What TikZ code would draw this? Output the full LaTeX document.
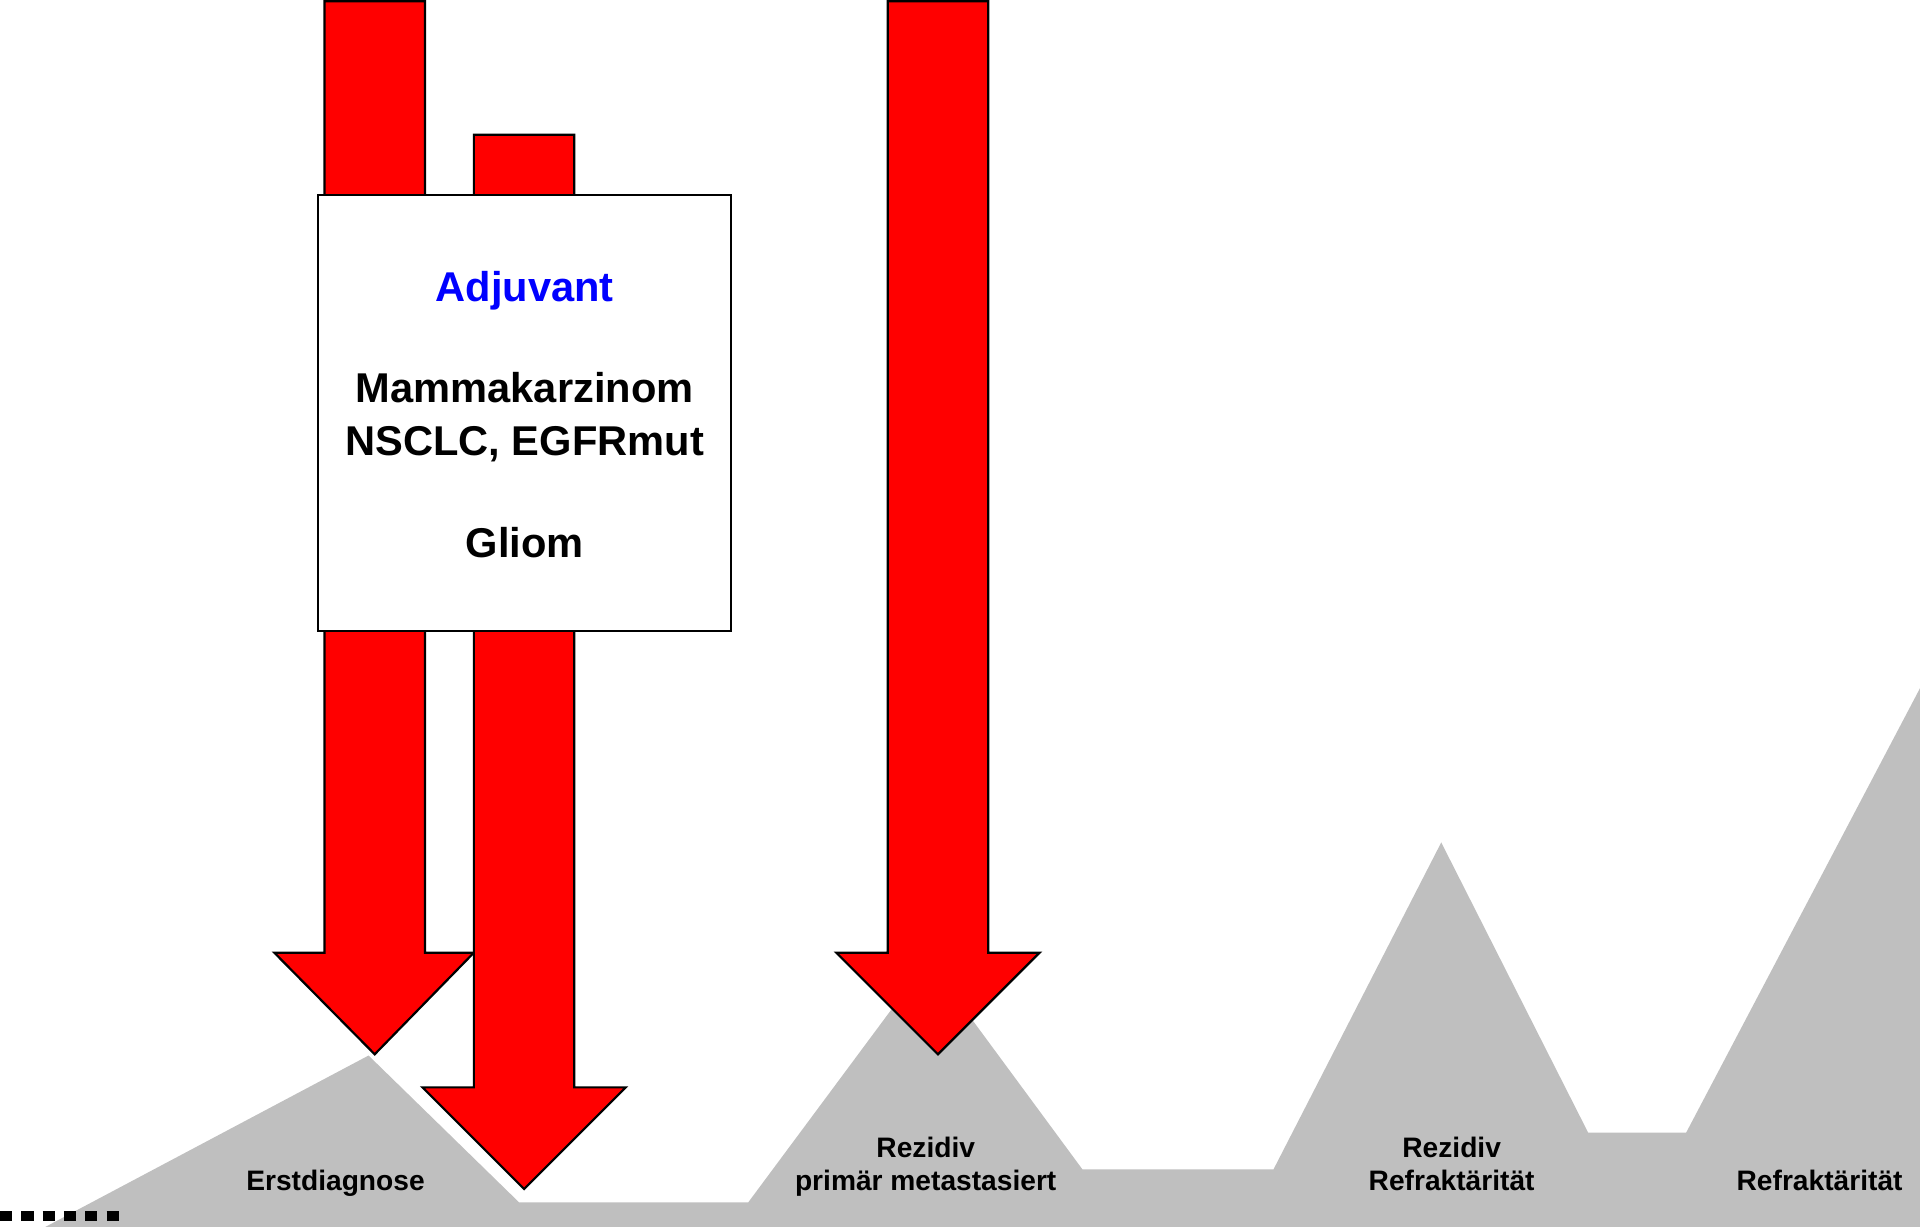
\documentclass[tikz,border=0pt]{standalone}
\usepackage{fontspec}
\setmainfont{Liberation Sans}
\definecolor{arrowred}{RGB}{255,0,0}
\definecolor{hill}{RGB}{191,191,191}
\definecolor{adjblue}{RGB}{0,0,255}
\begin{document}
\begin{tikzpicture}[x=1pt,y=-1pt,
  bigarrow/.style={fill=arrowred,draw=black,line width=1.8pt,line join=miter},
  boxlabel/.style={font=\fontsize{34}{40}\selectfont\bfseries,anchor=base,inner sep=0pt},
  stagelabel/.style={font=\fontsize{23}{27}\selectfont\bfseries,anchor=base,inner sep=0pt}]
\useasboundingbox (0,0) rectangle (1568,1004);

% grey course of the disease: peaks and plateaus
\fill[hill] (37,1002) -- (301,862) -- (424,982) -- (611,982) -- (758,784)
  -- (884,955) -- (1040,955) -- (1177,688) -- (1297,925) -- (1377,925)
  -- (1568,562) -- (1568,1002) -- cycle;

% dotted lead-in on the baseline
\coordinate (lead0) at (0,993);
\coordinate (lead1) at (98,993);
\draw[line width=8pt,dash pattern=on 10pt off 7.4pt] (lead0) -- (lead1);

% stage labels
\node[stagelabel] (erst) at (274,972) {Erstdiagnose};
\node[stagelabel] (rez1) at (756,945) {Rezidiv};
\node[stagelabel] (meta) at (756,972) {primär metastasiert};
\node[stagelabel] (rez2) at (1185.5,945) {Rezidiv};
\node[stagelabel] (refr1) at (1185.5,972) {Refraktärität};
\node[stagelabel] (refr2) at (1486,972) {Refraktärität};

% therapy arrows
\draw[bigarrow] (265,1) -- (347,1) -- (347,778) -- (387,778) -- (306,861)
  -- (224,778) -- (265,778) -- cycle;
\draw[bigarrow] (387,110) -- (469,110) -- (469,888) -- (511,888) -- (428,971)
  -- (345,888) -- (387,888) -- cycle;
\draw[bigarrow] (725,1) -- (807,1) -- (807,778) -- (849,778) -- (766,861)
  -- (683,778) -- (725,778) -- cycle;

% adjuvant indication box
\node[draw=black,fill=white,line width=1.8pt,minimum width=337,minimum height=356,
  inner sep=0pt] (adjbox) at (428.5,337) {};
\node[boxlabel,text=adjblue] (adj) at (428.5,246) {Adjuvant};
\node[boxlabel] (mamma) at (428.5,329) {Mammakarzinom};
\node[boxlabel] (nsclc) at (428.5,372) {NSCLC, EGFRmut};
\node[boxlabel] (gliom) at (428.5,455) {Gliom};
\end{tikzpicture}
\end{document}
